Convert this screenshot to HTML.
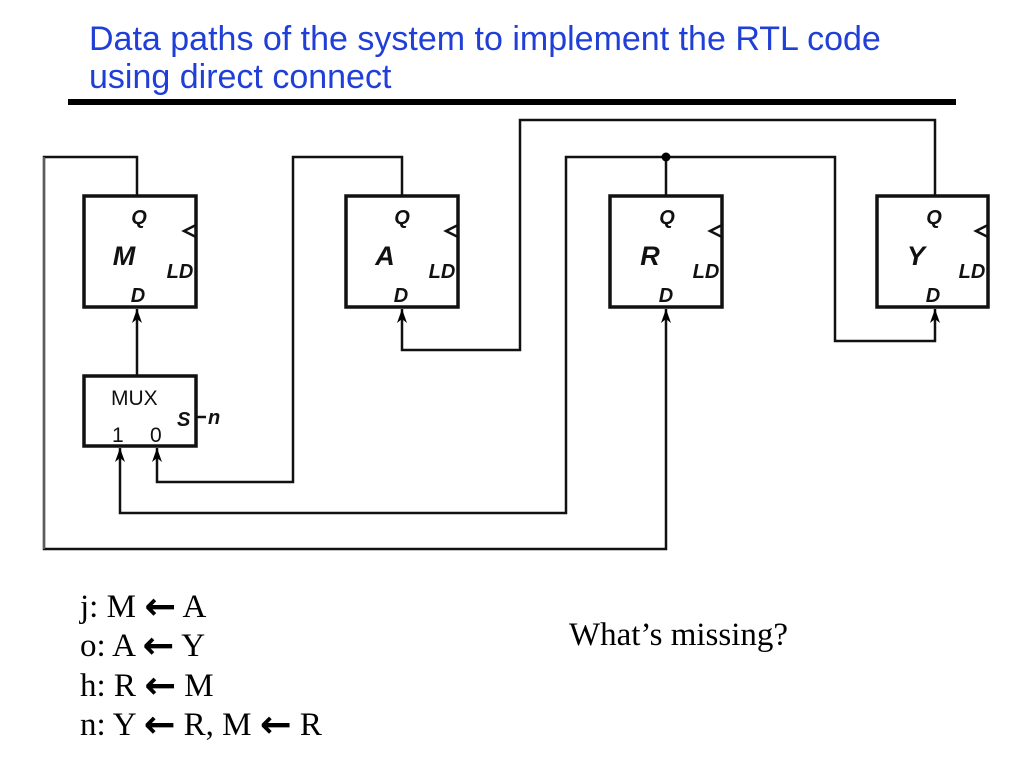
<!DOCTYPE html>
<html><head><style>
html,body{margin:0;padding:0;background:#fff;}
svg{display:block;}
</style></head><body>
<svg width="1024" height="768" xmlns="http://www.w3.org/2000/svg">
<g font-family="Liberation Sans, sans-serif" fill="#1f3fd6" font-size="34">
<text x="89" y="50">Data paths of the system to implement the RTL code</text>
<text x="89" y="88">using direct connect</text>
</g>
<rect x="68" y="99" width="888" height="6" fill="#000"/>

<g fill="none" stroke="#111" stroke-width="2.5">
<rect x="84" y="196" width="112" height="111" stroke-width="3.5"/>
<rect x="346" y="196" width="112" height="111" stroke-width="3.5"/>
<rect x="610" y="196" width="112" height="111" stroke-width="3.5"/>
<rect x="877" y="196" width="111" height="111" stroke-width="3.5"/>
<rect x="84" y="376" width="112" height="70" stroke-width="3.5"/>
<polyline points="196,225 184,231 196,237"/>
<polyline points="458,225 446,231 458,237"/>
<polyline points="722,225 710,231 722,237"/>
<polyline points="988,225 976,231 988,237"/>
<polyline points="137,196 137,157 44,157 44,549 666,549 666,309"/>
<polyline points="137,376 137,309"/>
<polyline points="402,196 402,157 293,157 293,482 157,482 157,448"/>
<polyline points="935,196 935,120 520,120 520,350 402,350 402,309"/>
<polyline points="666,196 666,157 566,157 566,513 120,513 120,448"/>
<polyline points="666,157 835,157 835,341 935,341 935,309"/>
<line x1="196" y1="417" x2="206" y2="417"/>
</g>
<g fill="#000">
<path d="M137,309 l-5,14 l5,-4 l5,4z"/>
<path d="M402,309 l-5,14 l5,-4 l5,4z"/>
<path d="M666,309 l-5,14 l5,-4 l5,4z"/>
<path d="M935,309 l-5,14 l5,-4 l5,4z"/>
<path d="M120,448 l-5,14 l5,-4 l5,4z"/>
<path d="M157,448 l-5,14 l5,-4 l5,4z"/>
</g>
<circle cx="666" cy="157" r="4.5" fill="#000"/>
<line x1="44" y1="157" x2="44" y2="549" stroke="#777" stroke-width="1.5"/>

<g font-family="Liberation Sans, sans-serif" font-style="italic" font-weight="bold" fill="#111">
<g font-size="20">
<text x="139" y="224" text-anchor="middle">Q</text>
<text x="402" y="224" text-anchor="middle">Q</text>
<text x="667" y="224" text-anchor="middle">Q</text>
<text x="934" y="224" text-anchor="middle">Q</text>
<text x="138" y="302" text-anchor="middle">D</text>
<text x="401" y="302" text-anchor="middle">D</text>
<text x="666" y="302" text-anchor="middle">D</text>
<text x="933" y="302" text-anchor="middle">D</text>
<text x="180" y="278" text-anchor="middle">LD</text>
<text x="442" y="278" text-anchor="middle">LD</text>
<text x="706" y="278" text-anchor="middle">LD</text>
<text x="972" y="278" text-anchor="middle">LD</text>
<text x="177" y="426">S</text>
<text x="208" y="424">n</text>
</g>
<g font-size="27">
<text x="124" y="265" text-anchor="middle">M</text>
<text x="385" y="265" text-anchor="middle">A</text>
<text x="650" y="265" text-anchor="middle">R</text>
<text x="916" y="265" text-anchor="middle">Y</text>
</g>
</g>
<g font-family="Liberation Sans, sans-serif" font-size="21" fill="#111">
<text x="111" y="405">MUX</text>
<text x="112" y="442">1</text>
<text x="150" y="442">0</text>
</g>

<g font-family="Liberation Serif, serif" font-size="33" fill="#000">
<text x="80" y="617">j: M <tspan font-family="DejaVu Sans, sans-serif" font-weight="bold" font-size="38" dy="2">←</tspan><tspan dy="-2"> A</tspan></text>
<text x="80" y="656">o: A <tspan font-family="DejaVu Sans, sans-serif" font-weight="bold" font-size="38" dy="2">←</tspan><tspan dy="-2"> Y</tspan></text>
<text x="80" y="696">h: R <tspan font-family="DejaVu Sans, sans-serif" font-weight="bold" font-size="38" dy="2">←</tspan><tspan dy="-2"> M</tspan></text>
<text x="80" y="735">n: Y <tspan font-family="DejaVu Sans, sans-serif" font-weight="bold" font-size="38" dy="2">←</tspan><tspan dy="-2"> R, M </tspan><tspan font-family="DejaVu Sans, sans-serif" font-weight="bold" font-size="38" dy="2">←</tspan><tspan dy="-2"> R</tspan></text>
<text x="569" y="645">What’s missing?</text>
</g>
</svg>
</body></html>
